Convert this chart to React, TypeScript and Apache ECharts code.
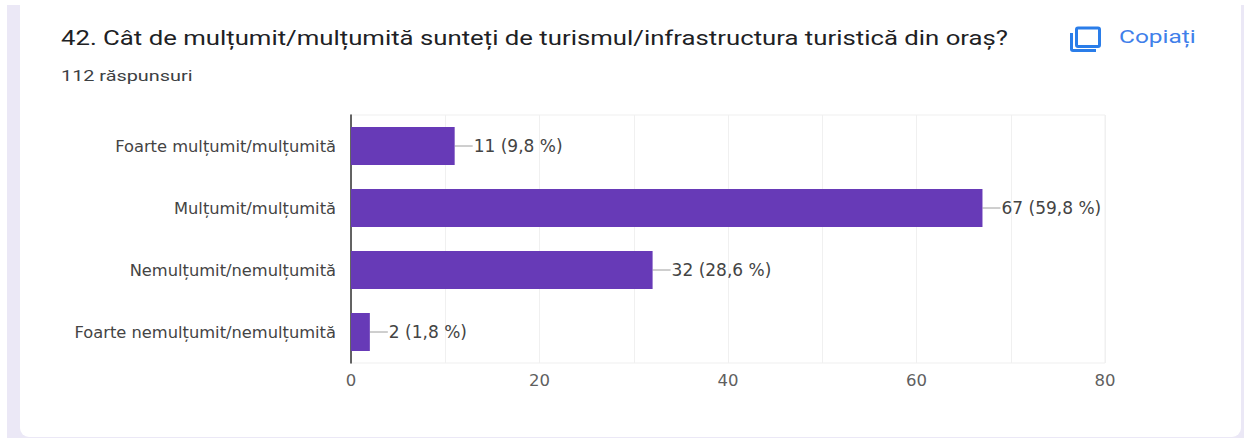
import React, { useEffect, useRef } from "react";
import * as echarts from "echarts";

const categories = [
  "Foarte mulțumit/mulțumită",
  "Mulțumit/mulțumită",
  "Nemulțumit/nemulțumită",
  "Foarte nemulțumit/nemulțumită",
];
const counts = [11, 67, 32, 2];
const percentLabels = ["9,8 %", "59,8 %", "28,6 %", "1,8 %"];
const titleText = "42. Cât de mulțumit/mulțumită sunteți de turismul/infrastructura turistică din oraș?";
const subtitleText = "112 răspunsuri";
const copyText = "Copiați";
const majorTicks = [0, 20, 40, 60, 80];

echarts.graphic.registerShape(
  "copyIcon",
  echarts.graphic.extendPath(
    "M1078 28H1098Q1099.5 28 1099.5 29.5V45Q1099.5 46.5 1098 46.5H1078Q1076.5 46.5 1076.5 45V29.5Q1076.5 28 1078 28ZM1071.5 33V49Q1071.5 50.5 1073 50.5H1096",
    {}
  )
);

const labelFont = "DejaVu Sans";

export default function App() {
  const ref = useRef<HTMLDivElement>(null);
  useEffect(() => {
    const chart = echarts.init(ref.current!, undefined, { renderer: "svg" });
    chart.setOption({
      animation: false,
      backgroundColor: "#ffffff",
      textStyle: { fontFamily: labelFont },
      graphic: [
        { type: "rect", z: -10, silent: true, shape: { x: 7, y: 5, width: 1237, height: 433 }, style: { fill: "#ebe8f6" } },
        { type: "rect", z: -9, silent: true, shape: { x: 20, y: -20, width: 1221, height: 457, r: 9 }, style: { fill: "#ffffff" } },
        { type: "text", x: 61, y: 27, scaleX: 1.256, style: { text: titleText, fill: "#202124", font: "400 20.5px Roboto" } },
        { type: "text", x: 61, y: 67, scaleX: 1.28, style: { text: subtitleText, fill: "#3c4043", font: "400 15.5px Roboto" } },
        { type: "text", x: 1119, y: 28, scaleX: 1.36, style: { text: copyText, fill: "#3f80ea", font: "400 18px Roboto" } },
        { type: "copyIcon", style: { fill: "none", stroke: "#2a7de9", lineWidth: 3 } },
      ],
      grid: { left: 351, right: 139, top: 115, bottom: 75, show: true, borderColor: "#efefef", borderWidth: 1 },
      xAxis: {
        type: "value",
        min: 0,
        max: 80,
        interval: 10,
        axisLine: { show: false },
        axisTick: { show: false },
        splitLine: { lineStyle: { color: "#f0f0f0", width: 1 } },
        axisLabel: {
          color: "#5f5f5f",
          fontSize: 16.5,
          margin: 9,
          formatter: (v: number) => (majorTicks.includes(v) ? String(v) : ""),
        },
      },
      yAxis: {
        type: "category",
        inverse: true,
        data: categories,
        axisLine: { show: true, lineStyle: { color: "#333333", width: 1.5 } },
        axisTick: { show: false },
        axisLabel: { color: "#444444", fontSize: 16.3, margin: 15, padding: [2, 0, 0, 0] },
      },
      series: [
        {
          type: "bar",
          data: counts,
          barWidth: 38,
          itemStyle: { color: "#673ab7" },
          label: {
            show: true,
            position: "right",
            distance: 19,
            color: "#444444",
            fontSize: 17,
            padding: [2, 0, 0, 0],
            formatter: (p: any) => `${p.value} (${percentLabels[p.dataIndex]})`,
          },
        },
        {
          type: "custom",
          data: counts.map((c, i) => [c, i]),
          encode: { x: 0, y: 1 },
          silent: true,
          renderItem: (_: any, api: any) => {
            const p = api.coord([api.value(0), api.value(1)]);
            return {
              type: "line",
              shape: { x1: p[0], y1: p[1], x2: p[0] + 18, y2: p[1] },
              style: { stroke: "#9e9e9e", lineWidth: 1 },
            };
          },
        },
      ],
    });
    return () => chart.dispose();
  }, []);
  return <div ref={ref} style={{ position: "fixed", left: 0, top: 0, width: 1244, height: 438 }} />;
}
